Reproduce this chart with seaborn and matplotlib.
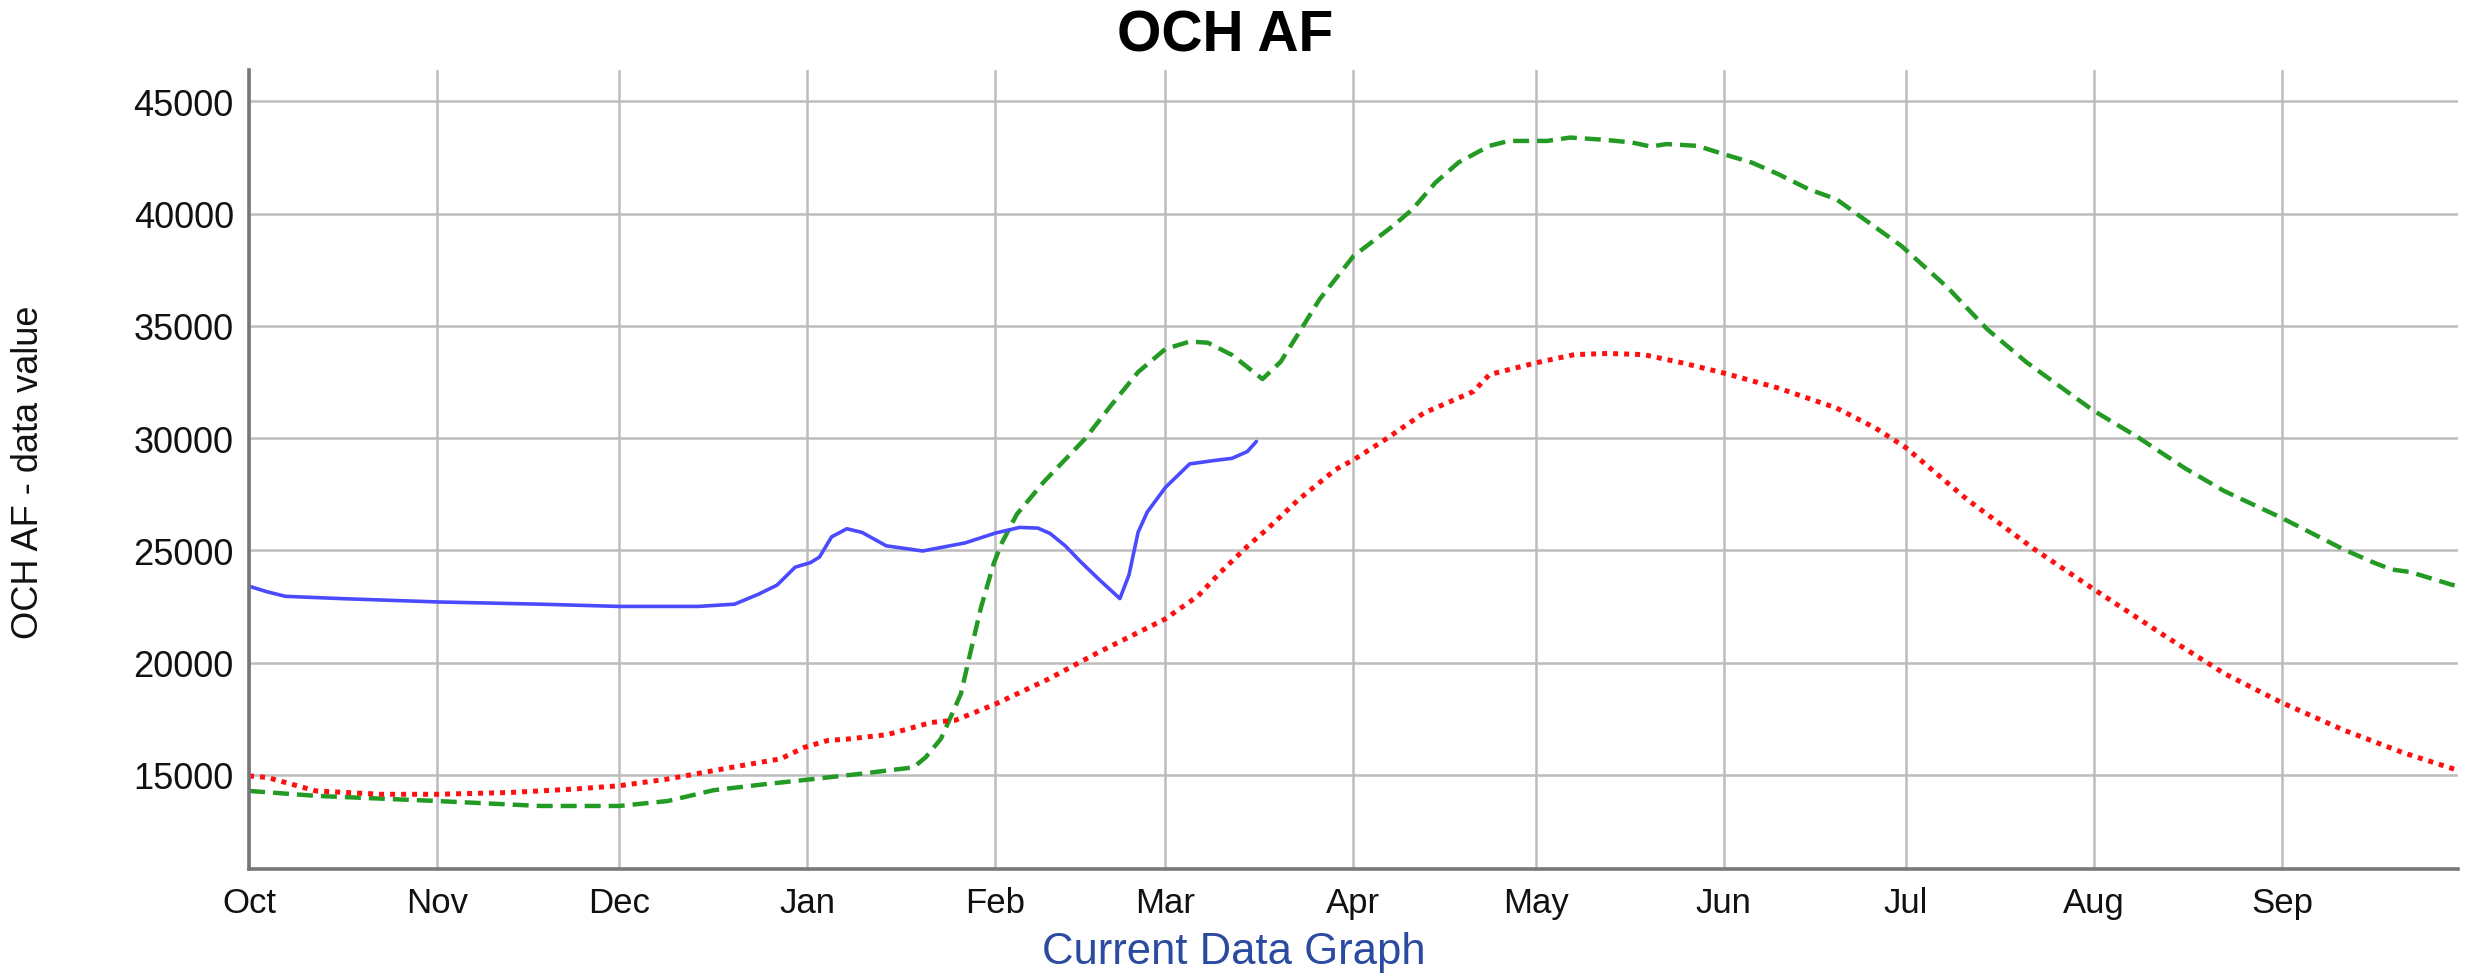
import pandas as pd
import matplotlib
matplotlib.use('Agg')
import matplotlib.pyplot as plt
import matplotlib.dates as mdates
import seaborn as sns

# Day offsets from Oct 1 and values
blue_days = [0, 3, 6, 16, 31, 48, 61, 74, 80, 84, 87, 90, 92.5, 94, 96, 98.5, 101, 105, 111, 118, 123, 127, 130,
             132, 134.5, 137, 140, 143.5, 145, 146.5, 148, 151, 155, 159, 162, 164.5, 166]
blue_vals = [23400, 23150, 22950, 22840, 22700, 22600, 22500, 22500, 22600, 23050, 23450, 24250, 24450, 24700,
             25600, 25960, 25800, 25200, 24970, 25330, 25770, 26020, 25990, 25750, 25200, 24500, 23720, 22850,
             23900, 25800, 26700, 27800, 28850, 29000, 29100, 29400, 29850]

green_days = [0, 11, 31, 48, 61, 69, 76.5, 85, 92, 101, 109.5, 111.5, 114, 115.5, 117.3, 119, 120.6, 122.7, 124,
              126.5, 131, 137.7, 142, 146.5, 151, 155, 158, 162, 167, 170, 173, 176.4, 182, 188.5, 191.7, 195.5,
              199.3, 204.4, 207.6, 213.9, 217.7, 223.4, 227.9, 231, 233.6, 238.7, 243, 247.6, 252, 257, 261.6,
              265.4, 272.3, 279.9, 286.4, 292.9, 303.8, 311.2, 319, 325.5, 335, 345.1, 349.7, 353, 356.2, 362.8, 364]
green_vals = [14280, 14060, 13830, 13610, 13610, 13830, 14310, 14580, 14780, 15050, 15330, 15780, 16600, 17500,
              18600, 20600, 22440, 24400, 25300, 26600, 28060, 29950, 31440, 32940, 33970, 34300, 34250, 33700,
              32630, 33400, 34690, 36180, 38110, 39450, 40190, 41380, 42280, 43020, 43240, 43240, 43390, 43290,
              43170, 42990, 43100, 43020, 42650, 42280, 41760, 41090, 40640, 39900, 38560, 36710, 34860, 33380,
              31250, 30050, 28660, 27640, 26440, 25050, 24500, 24150, 24030, 23480, 23400]

red_days = [0, 3, 11, 21.8, 31, 43, 53.4, 61, 69, 79.5, 87.6, 91.5, 95.4, 98.6, 105.2, 112.4, 116.4, 123, 131.7,
            140, 150.9, 156.4, 160, 164.6, 168, 172.9, 179, 182, 187.2, 193.6, 201.8, 204.4, 212, 218.4, 224,
            229.8, 236.2, 243, 252, 261.6, 268, 273, 283.1, 294.2, 303.8, 315.8, 325.5, 335, 345.1, 354.9,
            363.4, 364]
red_vals = [14950, 14880, 14280, 14130, 14130, 14210, 14360, 14510, 14810, 15330, 15710, 16220, 16530, 16590,
            16790, 17330, 17430, 18150, 19260, 20460, 21930, 22970, 24000, 25200, 26000, 27250, 28590, 29030,
            29930, 31120, 32080, 32830, 33350, 33720, 33770, 33720, 33350, 32900, 32230, 31340, 30450, 29580,
            27270, 25050, 23300, 21170, 19510, 18210, 17000, 15990, 15250, 15200]

y_ticks = [15000, 20000, 25000, 30000, 35000, 40000, 45000]

start = pd.Timestamp('2022-10-01')


def to_frame(days, vals):
    return pd.DataFrame({'date': start + pd.to_timedelta(days, unit='D'), 'value': vals})


sns.set_style('white')
plt.rcParams['font.family'] = ['Liberation Sans', 'DejaVu Sans']

fig = plt.figure(figsize=(12.355, 4.89), dpi=200)
ax = fig.add_axes([0.1008, 0.1104, 0.8939, 0.817])

sns.lineplot(data=to_frame(green_days, green_vals), x='date', y='value', ax=ax,
             color='#239a23', linewidth=1.6, linestyle=(0, (3.6, 1.8)))
sns.lineplot(data=to_frame(red_days, red_vals), x='date', y='value', ax=ax,
             color='#ff1010', linewidth=1.8, linestyle=(0, (1, 1.2)))
sns.lineplot(data=to_frame(blue_days, blue_vals), x='date', y='value', ax=ax,
             color='#4a4aff', linewidth=1.3)

ax.set_xlim(start, pd.Timestamp('2023-09-30'))
ax.set_ylim(10800, 46400)
ax.set_yticks(y_ticks)
ax.xaxis.set_major_locator(mdates.MonthLocator())
ax.xaxis.set_major_formatter(mdates.DateFormatter('%b'))

ax.grid(True, color='#bdbdbd', linewidth=0.9)
ax.set_axisbelow(True)
for side in ['top', 'right']:
    ax.spines[side].set_visible(False)
for side in ['left', 'bottom']:
    ax.spines[side].set_color('#777777')
    ax.spines[side].set_linewidth(1.3)

ax.tick_params(axis='both', length=0, labelsize=12.5, colors='#111111')
ax.tick_params(axis='y', pad=5.5, labelsize=13)
ax.tick_params(axis='x', pad=6)
ax.set_xlabel('')
ax.set_ylabel('')

fig.text(0.496, 0.963, 'OCH AF', ha='center', va='center', fontsize=20.5, fontweight='bold', color='black')
fig.text(0.4995, 0.026, 'Current Data Graph', ha='center', va='center', fontsize=15.7, color='#2b4ba0')
fig.text(0.0115, 0.517, 'OCH AF - data value', ha='center', va='center', rotation=90, fontsize=13,
         color='#111111')

fig.savefig('out.png', dpi=200)
